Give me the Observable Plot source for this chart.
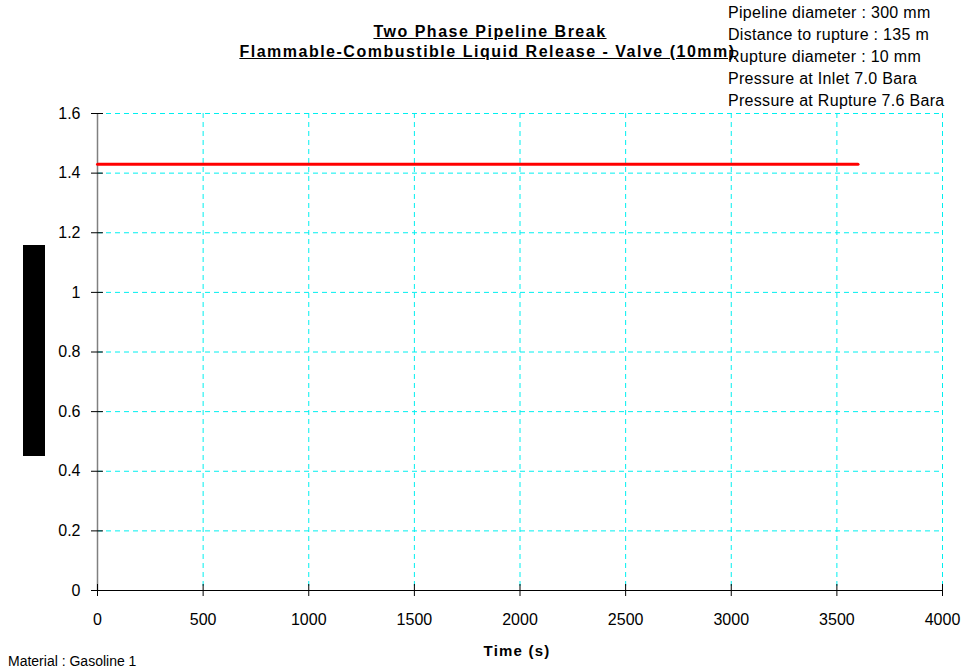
<!DOCTYPE html>
<html>
<head>
<meta charset="utf-8">
<script src="https://cdn.jsdelivr.net/npm/d3@7"></script>
<script src="https://cdn.jsdelivr.net/npm/@observablehq/plot@0.6"></script>
<style>
  html, body { margin: 0; padding: 0; background: #fff; }
  #wrap { position: relative; width: 969px; height: 672px; font-family: "Liberation Sans", Arial, sans-serif; color: #000; }
  #wrap svg { position: absolute; left: 0; top: 0; }
  .abs { position: absolute; white-space: nowrap; }
  .title { font-weight: bold; font-size: 16px; letter-spacing: 1.5px; text-decoration: underline; text-align: center; line-height: 20px; }
  .info { font-size: 16px; letter-spacing: 0.3px; line-height: 22px; }
</style>
</head>
<body>
<div id="wrap"></div>
<script>
const titleLines = ["Two Phase Pipeline Break", "Flammable-Combustible Liquid Release - Valve (10mm)"];
const infoLines = ["Pipeline diameter : 300 mm", "Distance to rupture : 135 m", "Rupture diameter : 10 mm", "Pressure at Inlet 7.0 Bara", "Pressure at Rupture 7.6 Bara"];
const xLabel = "Time (s)";
const materialText = "Material : Gasoline 1";
const xTicks = [0, 500, 1000, 1500, 2000, 2500, 3000, 3500, 4000];
const yTicks = [0, 0.2, 0.4, 0.6, 0.8, 1, 1.2, 1.4, 1.6];
const yTickLabels = ["0", "0.2", "0.4", "0.6", "0.8", "1", "1.2", "1.4", "1.6"];
const time = [0, 3600];
const values = [1.43, 1.43];

const data = time.map((t, i) => ({t, v: values[i]}));
const grid = {stroke: "#00f0f0", strokeOpacity: 1, strokeDasharray: "5,4", strokeWidth: 1};

const chart = Plot.plot({
  width: 969,
  height: 672,
  marginLeft: 97,
  marginRight: 27,
  marginTop: 113,
  marginBottom: 82,
  style: {fontFamily: "Liberation Sans, Arial, sans-serif", fontSize: "16px", background: "transparent", color: "#000"},
  x: {domain: [0, 4000], label: null},
  y: {domain: [0, 1.6], label: null},
  marks: [
    Plot.gridX(xTicks.slice(1), grid),
    Plot.gridY(yTicks.slice(1), grid),
    Plot.ruleX([0], {stroke: "#808080", strokeWidth: 1.5}),
    Plot.ruleY([0], {stroke: "#000", strokeWidth: 1}),
    Plot.axisX(xTicks, {anchor: "bottom", label: null, tickSize: 12, dy: -6, stroke: "#000", strokeOpacity: 1, tickFormat: () => ""}),
    Plot.axisX(xTicks, {anchor: "bottom", label: null, tickSize: 0, tickPadding: 23, fontSize: 16, fill: "#000", tickFormat: d => String(d)}),
    Plot.axisY(yTicks, {anchor: "left", label: null, tickSize: 12, dx: 6, stroke: "#000", strokeOpacity: 1, tickFormat: () => ""}),
    Plot.axisY(yTicks, {anchor: "left", label: null, tickSize: 0, tickPadding: 17, fontSize: 16, fill: "#000", tickFormat: d => yTickLabels[yTicks.indexOf(d)]}),
    Plot.lineY(data, {x: "t", y: "v", stroke: "#ff0000", strokeWidth: 3})
  ]
});

const wrap = document.getElementById("wrap");
wrap.appendChild(chart);

function addDiv(cls, text, style) {
  const d = document.createElement("div");
  d.className = "abs " + cls;
  d.textContent = text;
  Object.assign(d.style, style);
  wrap.appendChild(d);
  return d;
}
// title
addDiv("title", titleLines[0], {left: "0px", width: "980px", top: "22px"});
addDiv("title", titleLines[1], {left: "0px", width: "975px", top: "42px"});
// info block
infoLines.forEach((t, i) => addDiv("info", t, {left: "728px", top: (2 + i * 22) + "px"}));
// x label
addDiv("title", xLabel, {left: "0px", width: "1034px", top: "641px", textDecoration: "none", fontSize: "15px", letterSpacing: "1.2px"});
// material
addDiv("", materialText, {left: "8px", top: "653px", fontSize: "14px"});
// black y-label box
const box = document.createElement("div");
box.className = "abs";
Object.assign(box.style, {left: "23px", top: "245px", width: "22px", height: "211px", background: "#000"});
wrap.appendChild(box);
</script>
</body>
</html>
